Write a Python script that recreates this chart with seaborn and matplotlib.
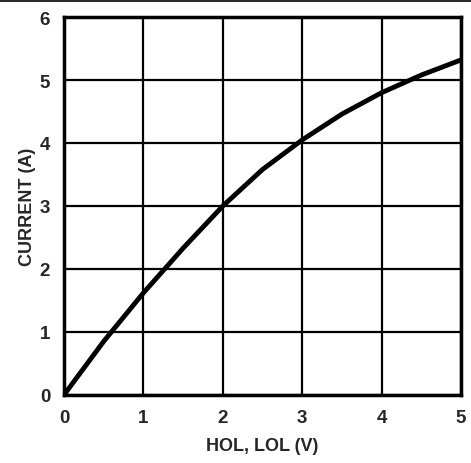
import pandas as pd
import seaborn as sns
import matplotlib.pyplot as plt
from matplotlib.lines import Line2D

# values
hol_v = [0, 0.5, 1.0, 1.5, 2.0, 2.5, 3.0, 3.5, 4.0, 4.5, 5.0]
current_a = [0, 0.85, 1.62, 2.33, 3.0, 3.58, 4.05, 4.46, 4.8, 5.08, 5.32]
x_ticks = [0, 1, 2, 3, 4, 5]
y_ticks = [0, 1, 2, 3, 4, 5, 6]

sns.set_style("white")
plt.rcParams['font.family'] = ['Liberation Sans', 'DejaVu Sans']
plt.rcParams['font.weight'] = 'bold'

df = pd.DataFrame({'v': hol_v, 'i': current_a})

fig = plt.figure(figsize=(4.71, 4.64), dpi=100)
ax = fig.add_axes([0.136, 0.147, 0.843, 0.814])

sns.lineplot(data=df, x='v', y='i', color='black', linewidth=3.5, ax=ax, zorder=3)

ax.set_xlim(0, 5)
ax.set_ylim(0, 6)
ax.set_xticks(x_ticks)
ax.set_yticks(y_ticks)
ax.grid(True, color='black', linewidth=1.6)
ax.tick_params(length=0, labelsize=13.5, pad=10)
for lab in ax.get_xticklabels() + ax.get_yticklabels():
    lab.set_fontweight('bold')
for s in ax.spines.values():
    s.set_color('black')
    s.set_linewidth(2.5)

ax.set_xlabel('HOL, LOL (V)', fontsize=13, fontweight='bold', labelpad=8)
ax.set_ylabel('CURRENT (A)', fontsize=13, fontweight='bold', labelpad=3)

# thin rule across the top of the figure
fig.add_artist(Line2D([0, 1], [0.995, 0.995], color='black', linewidth=1.2, transform=fig.transFigure))

fig.savefig('out.png', dpi=100)
